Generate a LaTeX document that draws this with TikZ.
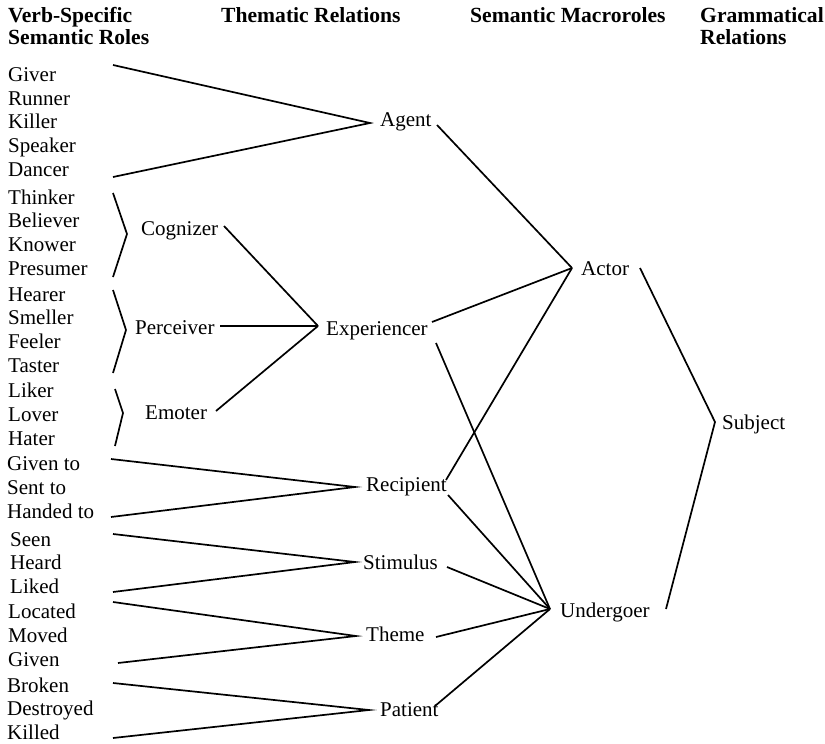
\documentclass[tikz,border=0pt]{standalone}
\usepackage{fontspec}
\setmainfont{Liberation Serif}
\begin{document}
\begin{tikzpicture}[x=1pt,y=-1pt,
  word/.style={anchor=base west,inner sep=0pt,font=\fontsize{21}{22}\selectfont},
  head/.style={anchor=base west,inner sep=0pt,font=\fontsize{21.6}{22}\selectfont\bfseries},
  link/.style={line width=1.7pt,line join=miter}]
\useasboundingbox (0,0) rectangle (825,744);
% headers
\node[head] (h1a) at (8,23) {Verb-Specific};
\node[head] (h1b) at (8,45) {Semantic Roles};
\node[head] (h2) at (221,23) {Thematic Relations};
\node[head] (h3) at (470,23) {Semantic Macroroles};
\node[head] (h4a) at (700,23) {Grammatical};
\node[head] (h4b) at (700,45) {Relations};
% verb-specific roles
\node[word] (w1) at (8,81.5) {Giver};
\node[word] (w2) at (8,105.5) {Runner};
\node[word] (w3) at (8,128.5) {Killer};
\node[word] (w4) at (8,152.5) {Speaker};
\node[word] (w5) at (8,176.5) {Dancer};
\node[word] (w6) at (8,204.5) {Thinker};
\node[word] (w7) at (8,227.5) {Believer};
\node[word] (w8) at (8,251.5) {Knower};
\node[word] (w9) at (8,275.5) {Presumer};
\node[word] (w10) at (8,301.5) {Hearer};
\node[word] (w11) at (8,324.5) {Smeller};
\node[word] (w12) at (8,348.5) {Feeler};
\node[word] (w13) at (8,372.5) {Taster};
\node[word] (w14) at (8,397.5) {Liker};
\node[word] (w15) at (8,421.5) {Lover};
\node[word] (w16) at (8,445.5) {Hater};
\node[word] (w17) at (7,470.5) {Given to};
\node[word] (w18) at (7,494.5) {Sent to};
\node[word] (w19) at (7,518.5) {Handed to};
\node[word] (w20) at (10,546.5) {Seen};
\node[word] (w21) at (10,569.5) {Heard};
\node[word] (w22) at (10,593.5) {Liked};
\node[word] (w23) at (8,618.5) {Located};
\node[word] (w24) at (8,642.5) {Moved};
\node[word] (w25) at (8,666.5) {Given};
\node[word] (w26) at (7,692.5) {Broken};
\node[word] (w27) at (7,715.5) {Destroyed};
\node[word] (w28) at (7,739.5) {Killed};
% intermediate
\node[word] (cog) at (141,235.5) {Cognizer};
\node[word] (per) at (135,334.5) {Perceiver};
\node[word] (emo) at (145,419.5) {Emoter};
% thematic relations
\node[word] (agent) at (380,126.5) {Agent};
\node[word] (exp) at (326,335.5) {Experiencer};
\node[word] (rec) at (366,491.5) {Recipient};
\node[word] (sti) at (363,569.5) {Stimulus};
\node[word] (the) at (366,641.5) {Theme};
\node[word] (pat) at (380,716.5) {Patient};
% macroroles
\node[word] (act) at (581,275.5) {Actor};
\node[word] (und) at (560,617.5) {Undergoer};
% grammatical relation
\node[word] (sub) at (722,429.5) {Subject};
% junction coordinates
\coordinate (jag) at (370,123);
\coordinate (jex) at (318,326);
\coordinate (jre) at (355,487);
\coordinate (jst) at (355,562);
\coordinate (jth) at (356,636);
\coordinate (jpa) at (369,710);
\coordinate (jac) at (572,268);
\coordinate (jun) at (550,609);
\coordinate (jsu) at (715,422);
% bracket tips
\coordinate (bcog) at (127,234);
\coordinate (bper) at (126,330);
\coordinate (bemo) at (123,413);
% line endpoints
\coordinate (a1) at (113,65);
\coordinate (a2) at (113,177);
\coordinate (c1) at (113,193);
\coordinate (c2) at (113,277);
\coordinate (p1) at (113,290);
\coordinate (p2) at (113,373);
\coordinate (e1) at (115,389);
\coordinate (e2) at (115,446);
\coordinate (r1) at (111,459);
\coordinate (r2) at (111,517);
\coordinate (s1) at (113,534);
\coordinate (s2) at (113,592);
\coordinate (t1) at (113,602);
\coordinate (t2) at (118,663);
\coordinate (pa1) at (113,683);
\coordinate (pa2) at (113,738);
\coordinate (cogR) at (224,226);
\coordinate (perR) at (220,326);
\coordinate (emoR) at (216,411);
\coordinate (agR) at (437,125);
\coordinate (exR1) at (432,322);
\coordinate (exR2) at (436,343);
\coordinate (reR1) at (446,480);
\coordinate (reR2) at (448,495);
\coordinate (stR) at (447,567);
\coordinate (thR) at (436,637);
\coordinate (paR) at (435,706);
\coordinate (acR) at (640,268);
\coordinate (unR) at (666,609);
% connectors
\draw[link] (a1) -- (jag) -- (a2);
\draw[link] (c1) -- (bcog) -- (c2);
\draw[link] (p1) -- (bper) -- (p2);
\draw[link] (e1) -- (bemo) -- (e2);
\draw[link] (cogR) -- (jex);
\draw[link] (perR) -- (jex);
\draw[link] (emoR) -- (jex);
\draw[link] (r1) -- (jre) -- (r2);
\draw[link] (s1) -- (jst) -- (s2);
\draw[link] (t1) -- (jth) -- (t2);
\draw[link] (pa1) -- (jpa) -- (pa2);
\draw[link] (agR) -- (jac);
\draw[link] (exR1) -- (jac);
\draw[link] (reR1) -- (jac);
\draw[link] (exR2) -- (jun);
\draw[link] (reR2) -- (jun);
\draw[link] (stR) -- (jun);
\draw[link] (thR) -- (jun);
\draw[link] (paR) -- (jun);
\draw[link] (acR) -- (jsu) -- (unR);
\end{tikzpicture}
\end{document}
